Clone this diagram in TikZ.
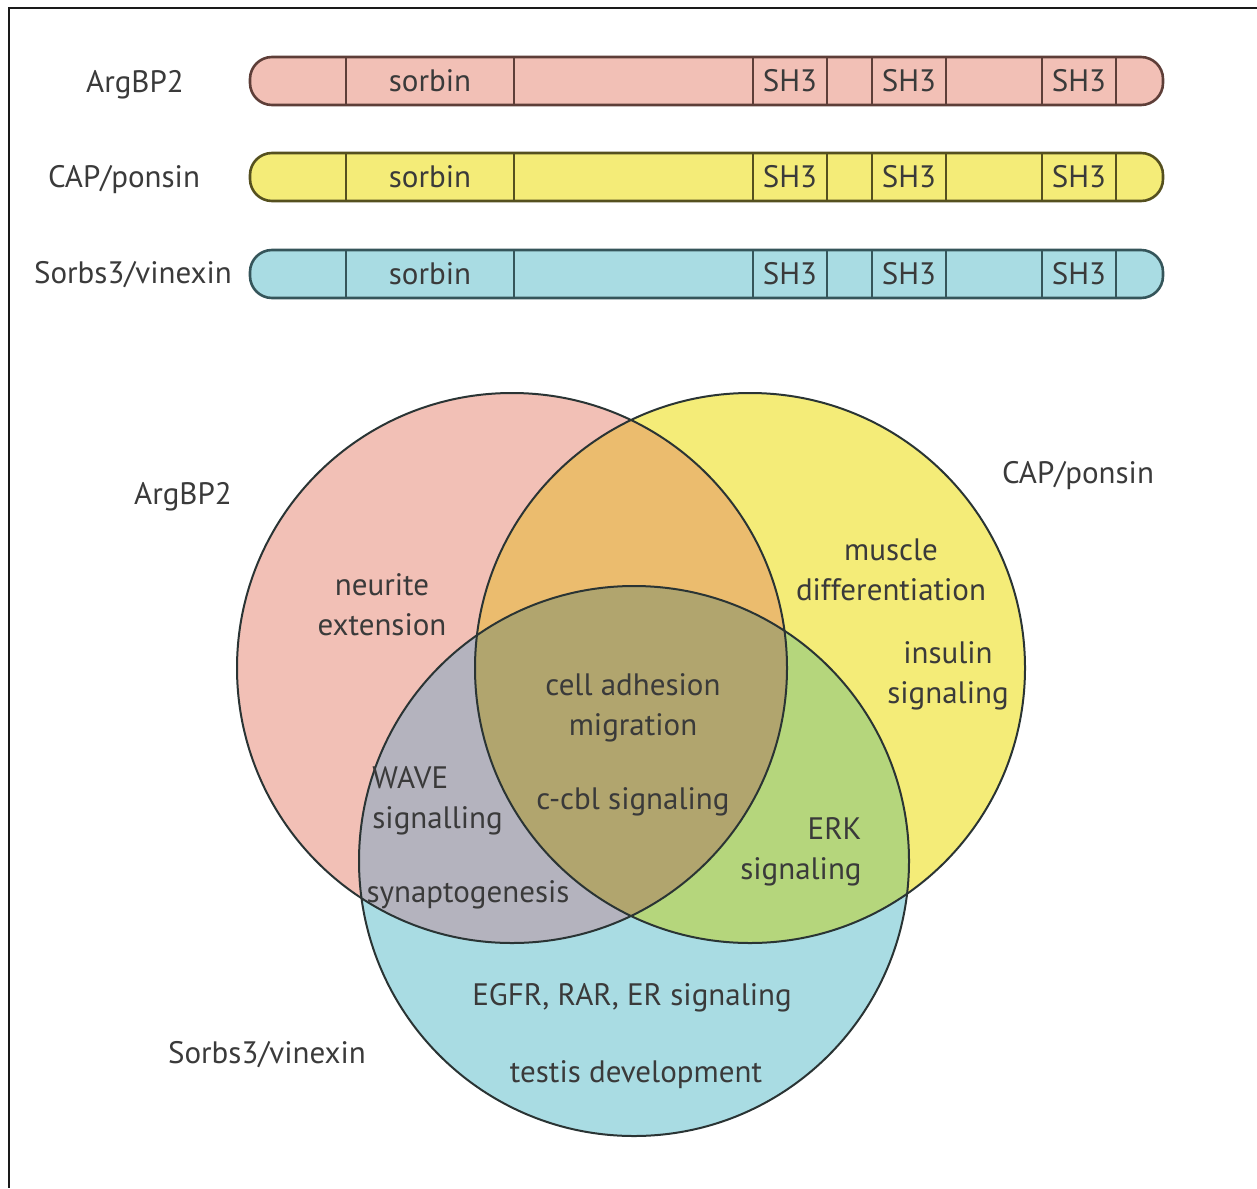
\documentclass[tikz,border=0pt]{standalone}
\usepackage{fontspec}
\setmainfont{PT Sans}
\usetikzlibrary{positioning}
\definecolor{ink}{HTML}{3A3A3A}
\definecolor{frame}{HTML}{1A1A1A}
\definecolor{argfill}{HTML}{F2C0B6}
\definecolor{argline}{HTML}{5E3E38}
\definecolor{capfill}{HTML}{F4EC78}
\definecolor{capline}{HTML}{55501F}
\definecolor{sorfill}{HTML}{A9DCE3}
\definecolor{sorline}{HTML}{35555A}
\definecolor{ovorange}{HTML}{EBBC6E}
\definecolor{ovgrey}{HTML}{B4B3BE}
\definecolor{ovgreen}{HTML}{B5D67C}
\definecolor{ovolive}{HTML}{B1A56E}
\definecolor{vline}{HTML}{2A3434}

\begin{document}
\begin{tikzpicture}[x=0.5pt,y=-0.5pt,
  font=\fontsize{15.5}{20}\selectfont,
  lbl/.style={text=ink,inner sep=0pt,align=center},
  dom/.style={text=ink,inner sep=0pt},
  bar/.style={line width=1.3pt,rounded corners=11pt},
  venn/.style={draw=vline,line width=1pt}]

\useasboundingbox (0,0) rectangle (1257,1188);
\draw[frame,line width=1pt] (1257,8) -- (9,8) -- (9,1188);

% domain bars
\foreach \nm/\y/\fc/\lc in {arg/81/argfill/argline,cap/177/capfill/capline,sor/274/sorfill/sorline}{
  \draw[bar,draw=\lc,fill=\fc] (250,\y-24) rectangle (1163,\y+24);
  \foreach \xx in {346,514,753,827,872,946,1042,1116}
    \draw[draw=\lc,line width=1.3pt] (\xx,\y-24) -- (\xx,\y+24);
  \node[dom] (\nm-sorbin) at (430,\y) {sorbin};
  \node[dom] (\nm-sh1) at (790,\y) {SH3};
  \node[dom] (\nm-sh2) at (909,\y) {SH3};
  \node[dom] (\nm-sh3) at (1079,\y) {SH3};
}
\node[lbl] (arg-name) at (135,85) {ArgBP2};
\node[lbl] (cap-name) at (124,180) {CAP/ponsin};
\node[lbl] (sor-name) at (133,275) {Sorbs3/vinexin};

% venn diagram
\coordinate (argC) at (512,668);
\coordinate (capC) at (750,668);
\coordinate (sorC) at (634,861);
\fill[argfill] (argC) circle[radius=275];
\fill[capfill] (capC) circle[radius=275];
\fill[sorfill] (sorC) circle[radius=275];
\begin{scope}
  \clip (argC) circle[radius=275];
  \fill[ovorange] (capC) circle[radius=275];
  \fill[ovgrey] (sorC) circle[radius=275];
\end{scope}
\begin{scope}
  \clip (capC) circle[radius=275];
  \fill[ovgreen] (sorC) circle[radius=275];
  \clip (argC) circle[radius=275];
  \fill[ovolive] (sorC) circle[radius=275];
\end{scope}
\draw[venn] (argC) circle[radius=275];
\draw[venn] (capC) circle[radius=275];
\draw[venn] (sorC) circle[radius=275];

\node[lbl] (v-arg) at (183,497) {ArgBP2};
\node[lbl] (v-cap) at (1078,476) {CAP/ponsin};
\node[lbl] (v-sor) at (267,1055) {Sorbs3/vinexin};

\node[lbl] (neurite) at (382,605) {neurite\\extension};
\node[lbl] (muscle) at (891,570) {muscle\\differentiation};
\node[lbl] (insulin) at (948,676) {insulin\\signaling};
\node[lbl] (adhesion) at (633,708) {cell adhesion\\migration};
\node[lbl] (ccbl) at (633,802) {c-cbl signaling};
\node[lbl,anchor=west,align=left] (wave) at (372,801) {WAVE\\signalling};
\node[lbl,anchor=east,align=right] (erk) at (862,852) {ERK\\signaling};
\node[lbl] (synapt) at (468,895) {synaptogenesis};
\node[lbl] (egfr) at (632,998) {EGFR, RAR, ER signaling};
\node[lbl] (testis) at (636,1075) {testis development};
\end{tikzpicture}
\end{document}
